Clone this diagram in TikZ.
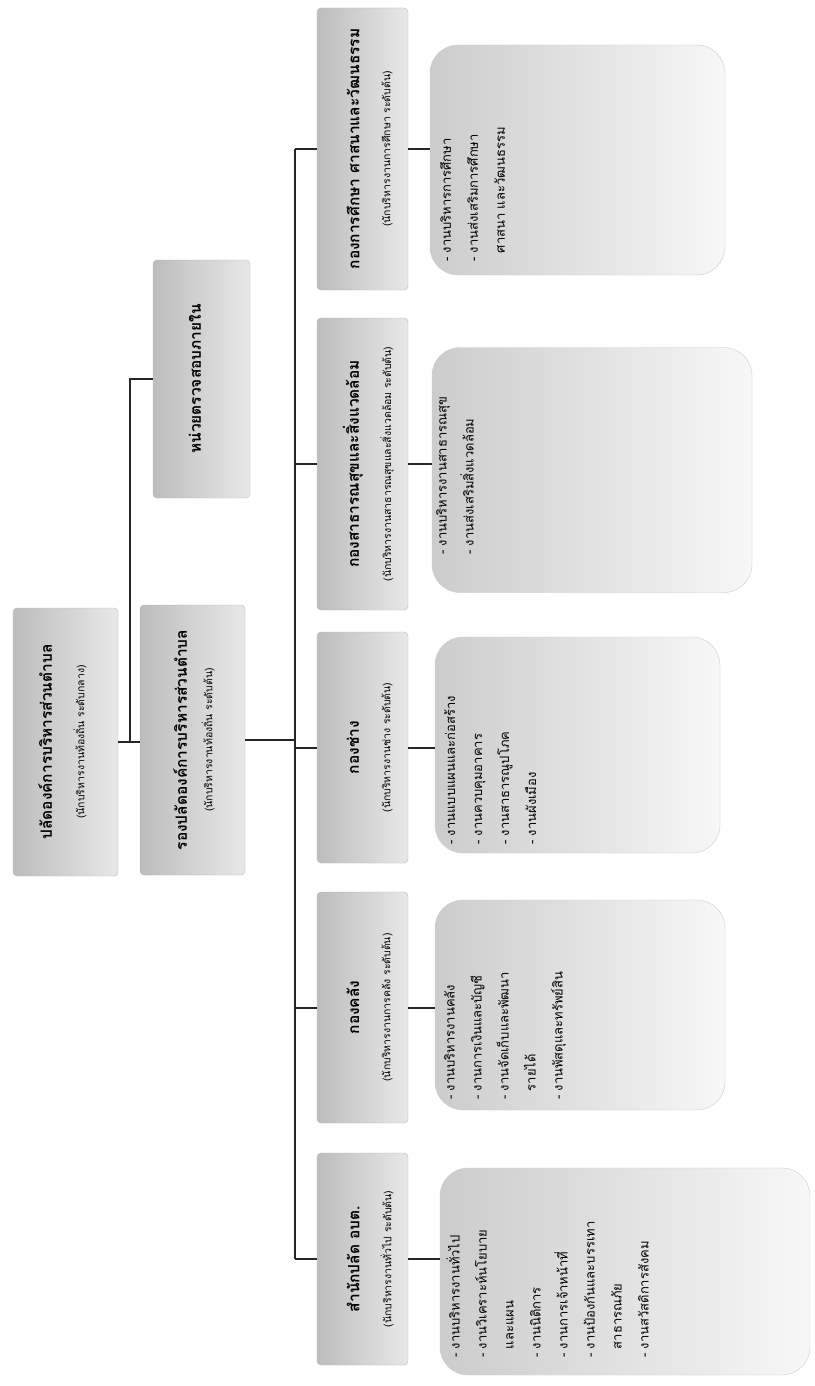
\documentclass[tikz,border=0pt]{standalone}
\usepackage{fontspec}
\newfontfamily\thai[Script=Thai]{Loma}
\begin{document}
\begin{tikzpicture}[x=1pt,y=-1pt]
\useasboundingbox[fill=white] (0,0) rectangle (814,1386);
\tikzset{
 box/.style={draw=black!28, rounded corners=4pt, left color=black!26, right color=black!9, inner sep=0pt},
 listbox/.style={draw=black!20, rounded corners=28pt, left color=black!20, right color=black!3, inner sep=0pt},
 conn/.style={line width=2pt, black!85},
 ttl/.style={rotate=90, inner sep=0pt, font=\thai\bfseries\fontsize{15.5}{18}\selectfont},
 sub/.style={rotate=90, inner sep=0pt, font=\thai\fontsize{10.5}{12}\selectfont},
 lst/.style={rotate=90, anchor=north west, align=left, inner sep=0pt, font=\thai\fontsize{13}{27}\selectfont}
}
% upper level boxes
\node[box, minimum width=105pt, minimum height=268pt] (palad) at (65.5,742) {};
\node[box, minimum width=105pt, minimum height=270pt] (deputy) at (192.5,740) {};
\node[box, minimum width=97pt, minimum height=238pt] (audit) at (201.5,379) {};
% divisions
\node[box, minimum width=91pt, minimum height=282pt] (edu) at (362.5,149) {};
\node[box, minimum width=91pt, minimum height=292pt] (health) at (362.5,464) {};
\node[box, minimum width=91pt, minimum height=231pt] (works) at (362.5,747.5) {};
\node[box, minimum width=91pt, minimum height=231pt] (finance) at (362.5,1007.5) {};
\node[box, minimum width=91pt, minimum height=212pt] (office) at (362.5,1259) {};
% lists
\node[listbox, minimum width=295pt, minimum height=230pt] (eduL) at (577.5,160) {};
\node[listbox, minimum width=320pt, minimum height=245pt] (healthL) at (592,470) {};
\node[listbox, minimum width=285pt, minimum height=216pt] (worksL) at (577.5,745) {};
\node[listbox, minimum width=290pt, minimum height=210pt] (financeL) at (580,1005) {};
\node[listbox, minimum width=370pt, minimum height=207pt] (officeL) at (625,1271.5) {};
% texts upper
\node[ttl] (paladT) at (45,742) {ปลัดองค์การบริหารส่วนตำบล};
\node[sub] (paladS) at (80,742) {(นักบริหารงานท้องถิ่น ระดับกลาง)};
\node[ttl] (deputyT) at (180,740) {รองปลัดองค์การบริหารส่วนตำบล};
\node[sub] (deputyS) at (208,740) {(นักบริหารงานท้องถิ่น ระดับต้น)};
\node[ttl] (auditT) at (195,379) {หน่วยตรวจสอบภายใน};
% division texts
\node[ttl] (eduT) at (353,149) {กองการศึกษา ศาสนาและวัฒนธรรม};
\node[sub] (eduS) at (387,149) {(นักบริหารงานการศึกษา ระดับต้น)};
\node[ttl] (healthT) at (353,464) {กองสาธารณสุขและสิ่งแวดล้อม};
\node[sub] (healthS) at (387,464) {(นักบริหารงานสาธารณสุขและสิ่งแวดล้อม ระดับต้น)};
\node[ttl] (worksT) at (353,747.5) {กองช่าง};
\node[sub] (worksS) at (387,747.5) {(นักบริหารงานช่าง ระดับต้น)};
\node[ttl] (financeT) at (353,1007.5) {กองคลัง};
\node[sub] (financeS) at (387,1007.5) {(นักบริหารงานการคลัง ระดับต้น)};
\node[ttl] (officeT) at (353,1259) {สำนักปลัด อบต.};
\node[sub] (officeS) at (387,1259) {(นักบริหารงานทั่วไป ระดับต้น)};
% list texts
\node[lst] (eduX) at (440,262) {- งานบริหารการศึกษา\\- งานส่งเสริมการศึกษา\\\phantom{- }ศาสนา และวัฒนธรรม};
\node[lst] (healthX) at (436,555) {- งานบริหารงานสาธารณสุข\\- งานส่งเสริมสิ่งแวดล้อม};
\node[lst] (worksX) at (444,845) {- งานแบบแผนและก่อสร้าง\\- งานควบคุมอาคาร\\- งานสาธารณูปโภค\\- งานผังเมือง};
\node[lst] (financeX) at (444,1100) {- งานบริหารงานคลัง\\- งานการเงินและบัญชี\\- งานจัดเก็บและพัฒนา\\\phantom{- }รายได้\\- งานพัสดุและทรัพย์สิน};
\node[lst] (officeX) at (446,1358) {- งานบริหารงานทั่วไป\\- งานวิเคราะห์นโยบาย\\\phantom{- }และแผน\\- งานนิติการ\\- งานการเจ้าหน้าที่\\- งานป้องกันและบรรเทา\\\phantom{- }สาธารณภัย\\- งานสวัสดิการสังคม};
% connectors
\coordinate (br) at (130,0);
\coordinate (sp) at (295,0);
\draw[conn] (palad.east) -- (palad.east -| deputy.west);
\draw[conn] (palad.east -| br) -- (audit.west -| br) -- (audit.west);
\draw[conn] (deputy.east) -- (deputy.east -| sp);
\draw[conn] (edu.west -| sp) -- (office.west -| sp);
\foreach \d in {edu,health,works,finance,office}{
  \draw[conn] (\d.west -| sp) -- (\d.west);
  \draw[conn] (\d.east) -- (\d.east -| \d L.west);
}
\end{tikzpicture}
\end{document}
